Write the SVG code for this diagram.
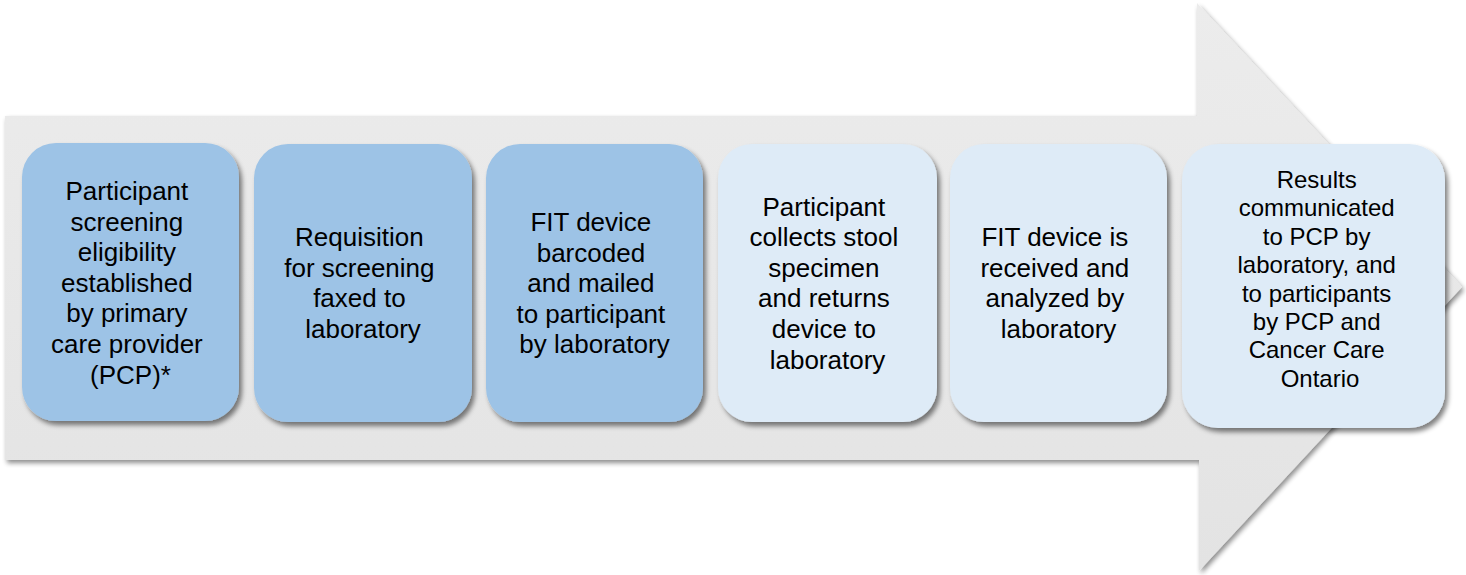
<svg xmlns="http://www.w3.org/2000/svg" width="1466" height="575" viewBox="0 0 1466 575">
  <defs>
    <linearGradient id="arrowFill" x1="0" y1="0" x2="0" y2="1">
      <stop offset="0" stop-color="#ececec"/>
      <stop offset="1" stop-color="#e3e3e3"/>
    </linearGradient>
    <filter id="arrowShadow" x="-5%" y="-5%" width="110%" height="115%">
      <feGaussianBlur in="SourceAlpha" stdDeviation="2.5"/>
      <feOffset dx="2" dy="3" result="blur"/>
      <feComponentTransfer><feFuncA type="linear" slope="0.45"/></feComponentTransfer>
      <feMerge><feMergeNode/><feMergeNode in="SourceGraphic"/></feMerge>
    </filter>
    <filter id="boxShadow" x="-10%" y="-10%" width="125%" height="125%">
      <feGaussianBlur in="SourceAlpha" stdDeviation="2.5"/>
      <feOffset dx="3" dy="4" result="blur"/>
      <feComponentTransfer><feFuncA type="linear" slope="0.5"/></feComponentTransfer>
      <feMerge><feMergeNode/><feMergeNode in="SourceGraphic"/></feMerge>
    </filter>
  </defs>
  <style>
    .step { filter: url(#boxShadow); }
    .dark { fill: #9dc3e6; }
    .light { fill: #deebf7; }
    .label { font-family: "Liberation Sans", Arial, sans-serif; font-size: 26px; fill: #000; text-anchor: middle; }
    .label.small { font-size: 24px; }
  </style>

  <rect width="1466" height="575" fill="#ffffff"/>

  <!-- backdrop: wide block arrow pointing right -->
  <g id="flow-arrow">
    <polygon points="5,116 1197,116 1197,3 1462,287 1199,571 1199,460 5,460" fill="url(#arrowFill)" filter="url(#arrowShadow)"/>
  </g>

  <g id="connectors"></g>

  <g id="step1">
    <rect class="step dark" x="22" y="143" width="217" height="278" rx="34"/>
    <text class="label" x="130.5" y="200">
      <tspan x="130.5" y="200">Participant</tspan>
      <tspan x="130.5" y="230.6">screening</tspan>
      <tspan x="130.5" y="261.2">eligibility</tspan>
      <tspan x="130.5" y="291.8">established</tspan>
      <tspan x="130.5" y="322.4">by primary</tspan>
      <tspan x="130.5" y="353">care provider</tspan>
      <tspan x="130.5" y="383.6">(PCP)*</tspan>
    </text>
  </g>

  <g id="step2">
    <rect class="step dark" x="254" y="144" width="218" height="278" rx="34"/>
    <text class="label" x="363" y="246">
      <tspan x="363" y="246">Requisition</tspan>
      <tspan x="363" y="276.6">for screening</tspan>
      <tspan x="363" y="307.2">faxed to</tspan>
      <tspan x="363" y="337.8">laboratory</tspan>
    </text>
  </g>

  <g id="step3">
    <rect class="step dark" x="486" y="144" width="217" height="278" rx="34"/>
    <text class="label" x="594.5" y="231">
      <tspan x="594.5" y="231">FIT device</tspan>
      <tspan x="594.5" y="261.6">barcoded</tspan>
      <tspan x="594.5" y="292.2">and mailed</tspan>
      <tspan x="594.5" y="322.8">to participant</tspan>
      <tspan x="594.5" y="353.4">by laboratory</tspan>
    </text>
  </g>

  <g id="step4">
    <rect class="step light" x="718" y="144" width="219" height="278" rx="34"/>
    <text class="label" x="827.5" y="215.5">
      <tspan x="827.5" y="215.5">Participant</tspan>
      <tspan x="827.5" y="246.1">collects stool</tspan>
      <tspan x="827.5" y="276.7">specimen</tspan>
      <tspan x="827.5" y="307.3">and returns</tspan>
      <tspan x="827.5" y="337.9">device to</tspan>
      <tspan x="827.5" y="368.5">laboratory</tspan>
    </text>
  </g>

  <g id="step5">
    <rect class="step light" x="950" y="144" width="217" height="278" rx="34"/>
    <text class="label" x="1058.5" y="246">
      <tspan x="1058.5" y="246">FIT device is</tspan>
      <tspan x="1058.5" y="276.6">received and</tspan>
      <tspan x="1058.5" y="307.2">analyzed by</tspan>
      <tspan x="1058.5" y="337.8">laboratory</tspan>
    </text>
  </g>

  <g id="step6">
    <rect class="step light" x="1182" y="144" width="263" height="284" rx="36"/>
    <text class="label small" x="1320" y="188">
      <tspan x="1320" y="188">Results</tspan>
      <tspan x="1320" y="216.4">communicated</tspan>
      <tspan x="1320" y="244.8">to PCP by</tspan>
      <tspan x="1320" y="273.2">laboratory, and</tspan>
      <tspan x="1320" y="301.6">to participants</tspan>
      <tspan x="1320" y="330">by PCP and</tspan>
      <tspan x="1320" y="358.4">Cancer Care</tspan>
      <tspan x="1320" y="386.8">Ontario</tspan>
    </text>
  </g>
</svg>
